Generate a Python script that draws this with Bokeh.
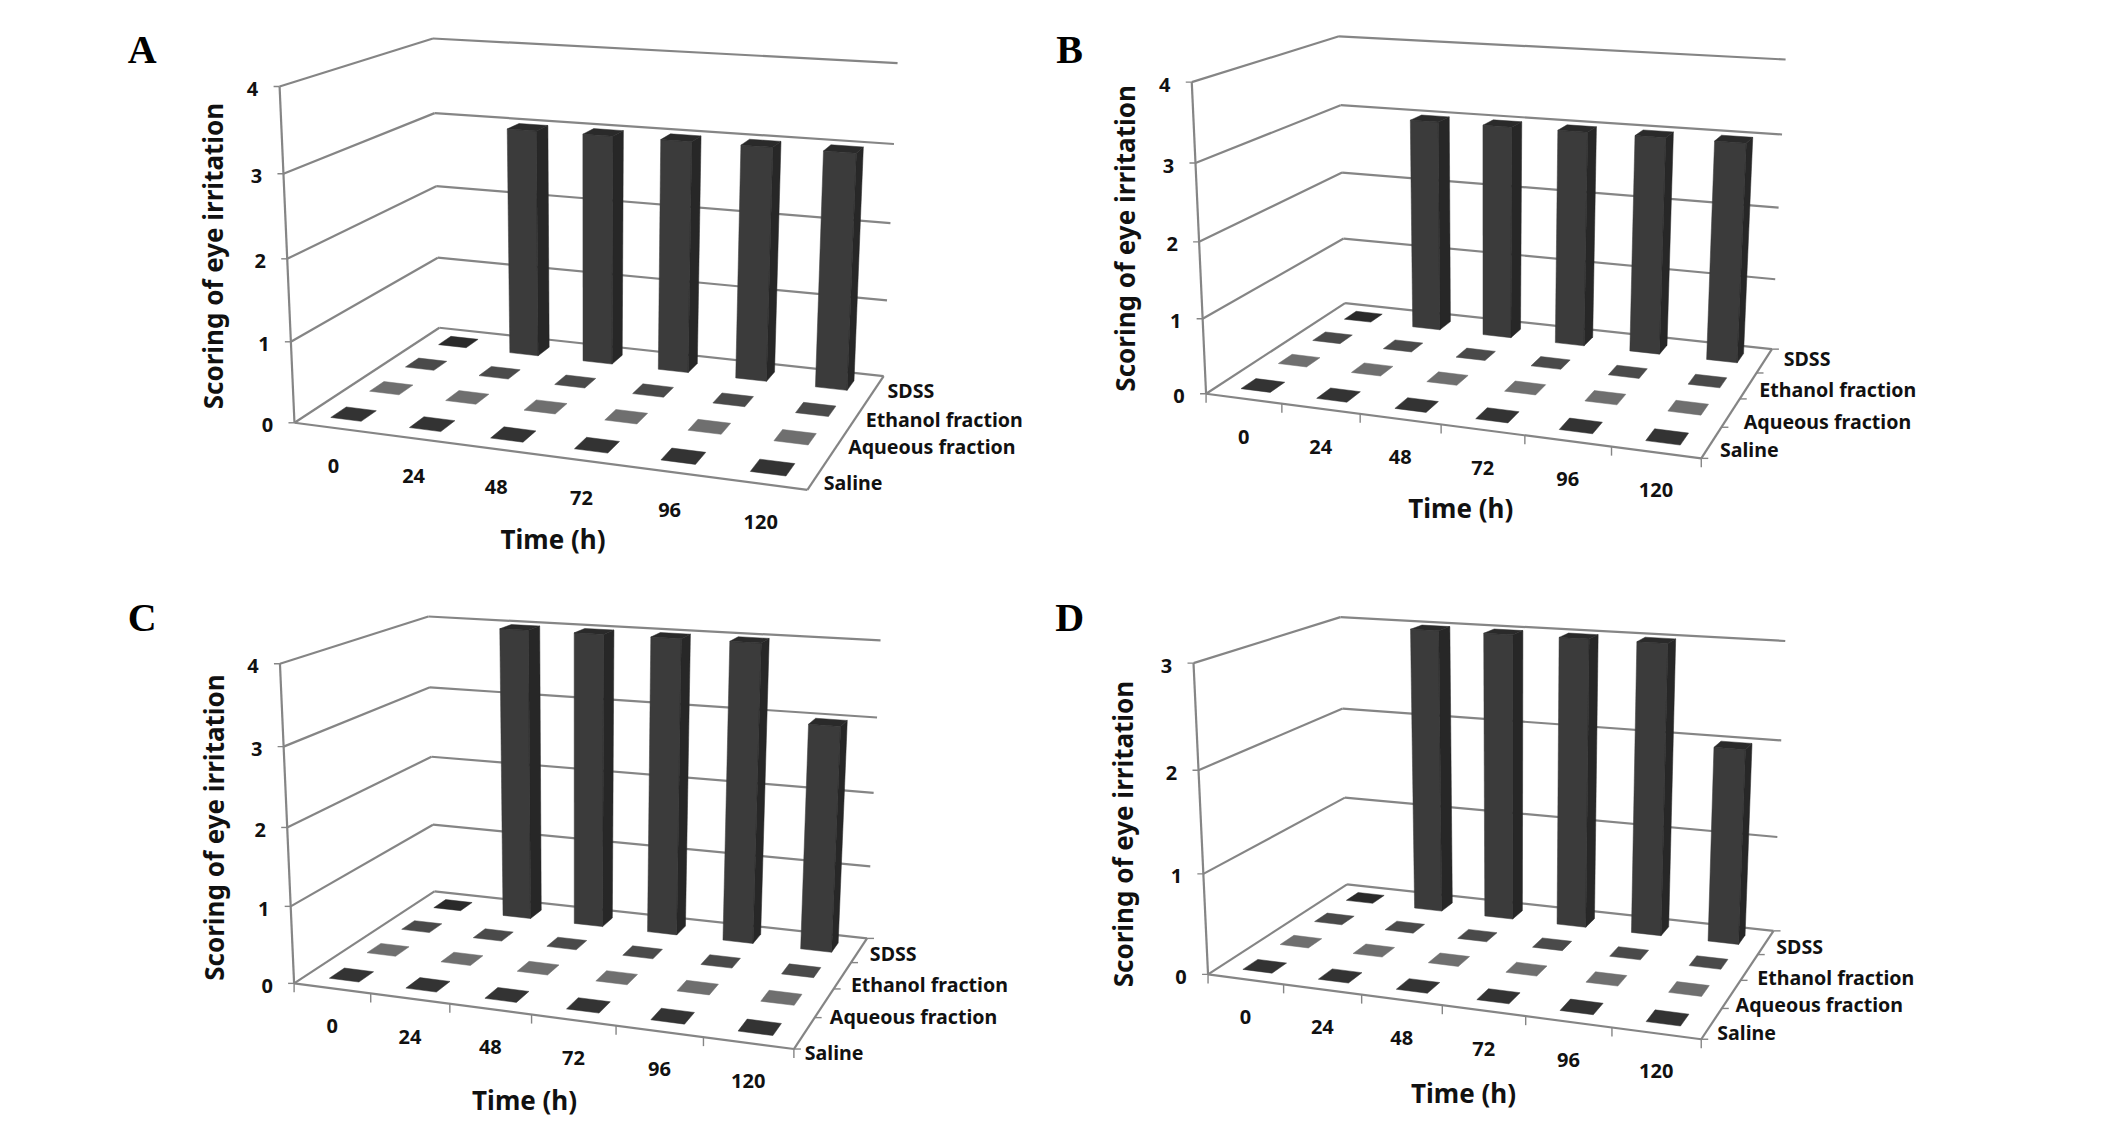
import numpy as np
from bokeh.plotting import figure
from bokeh.layouts import gridplot
from bokeh.models import ColumnDataSource, Range1d
from bokeh.core.properties import value
from bokeh.embed import file_html
from bokeh.resources import INLINE

# ---------- chart values ----------
times = ["0", "24", "48", "72", "96", "120"]
series = ["Saline", "Aqueous fraction", "Ethanol fraction", "SDSS"]
panel_names = ["A", "B", "C", "D"]

saline_all = [0, 0, 0, 0, 0, 0]
aqueous_all = [0, 0, 0, 0, 0, 0]
ethanol_all = [0, 0, 0, 0, 0, 0]
sdss_a = [0, 3, 3, 3, 3, 3]
sdss_b = [0, 3, 3, 3, 3, 3]
sdss_c = [0, 4, 4, 4, 4, 3]
sdss_d = [0, 3, 3, 3, 3, 2]
zmax_a, zmax_b, zmax_c, zmax_d = 4, 4, 4, 3

# ---------- styles ----------
FONT = "Noto Sans"
GRID = "#858585"
FRONT, SIDE, TOP = "#3b3b3b", "#272727", "#2a2a2a"
FLAT = ["#333333", "#6f6f6f", "#4a4a4a", "#2a2a2a"]
BAR_FRAC = 0.39

# ---------- layout of each panel (screen anchors of the 3-D box, in the 3x crop scale) ----------
SX, SY = 1.475, 2.775
layout = {
    "A": dict(o=(0, 0), frame=(0, 1037, 1, 568), floor_ticks=False,
              left=[(433,1175),(428,948),(423,720),(418,483),(412,242)],
              back=[(648,912),(645,717),(643,518),(640,315),(637,108)],
              right=[(1302,1043),(1308,835),(1313,621),(1318,402),(1323,176)],
              fr=(1190,1362),
              slabels=[(1218,1340),(1254,1240),(1280,1165),(1312,1085)],
              ytitle=(314,712), xtitle=(815,1498), letter=(209,140)),
    "B": dict(o=(1063, 0), frame=(1037, 2110, 1, 568), floor_ticks=True,
              left=[(211,1095),(205,887),(200,670),(195,452),(189,230)],
              back=[(415,843),(413,663),(411,481),(409,294),(406,102)],
              right=[(1045,968),(1050,776),(1055,578),(1060,375),(1065,167)],
              fr=(940,1275),
              slabels=[(972,1250),(1007,1170),(1030,1082),(1066,996)],
              ytitle=(90,663), xtitle=(586,1412), letter=(9,140)),
    "C": dict(o=(0, 565), frame=(0, 1037, 568, 1123), floor_ticks=True,
              left=[(433,1163),(428,948),(423,730),(418,505),(412,275)],
              back=[(640,907),(638,722),(636,534),(633,340),(631,145)],
              right=[(1278,1037),(1283,838),(1288,633),(1293,425),(1298,211)],
              fr=(1170,1345),
              slabels=[(1190,1354),(1227,1255),(1258,1165),(1286,1080)],
              ytitle=(315,730), xtitle=(773,1485), letter=(209,148)),
    "D": dict(o=(1063, 565), frame=(1037, 2110, 568, 1123), floor_ticks=True,
              left=[(214,1138),(205,860),(200,570),(192,272)],
              back=[(418,887),(415,647),(412,400),(408,147)],
              right=[(1048,1015),(1053,757),(1058,489),(1065,212)],
              fr=(940,1318),
              slabels=[(968,1298),(995,1222),(1027,1145),(1055,1060)],
              ytitle=(88,748), xtitle=(590,1467), letter=(9,148)),
}
panel_values = {
    "A": ([saline_all, aqueous_all, ethanol_all, sdss_a], zmax_a),
    "B": ([saline_all, aqueous_all, ethanol_all, sdss_b], zmax_b),
    "C": ([saline_all, aqueous_all, ethanol_all, sdss_c], zmax_c),
    "D": ([saline_all, aqueous_all, ethanol_all, sdss_d], zmax_d),
}


def fit_camera(cfg, zmax):
    """Least-squares pinhole camera: (t, s, z) in chart units -> page pixels."""
    ox, oy = cfg["o"]
    conv = lambda q: (ox + q[0] / SX, oy + q[1] / SY)
    world, img = [], []
    for z, q in enumerate(cfg["left"]):
        world.append((0, 0, z)); img.append(conv(q))
    for z, q in enumerate(cfg["back"]):
        world.append((0, 4, z)); img.append(conv(q))
    for z, q in enumerate(cfg["right"]):
        world.append((6, 4, z)); img.append(conv(q))
    world.append((6, 0, 0)); img.append(conv(cfg["fr"]))
    A = []
    for (X, Y, Z), (u, v) in zip(world, img):
        u, v = u / 1000, v / 1000
        A.append([X, Y, Z, 1, 0, 0, 0, 0, -u * X, -u * Y, -u * Z, -u])
        A.append([0, 0, 0, 0, X, Y, Z, 1, -v * X, -v * Y, -v * Z, -v])
    P = np.linalg.svd(np.array(A, float))[2][-1].reshape(3, 4)

    def proj(t, s, z):
        h = P @ np.array([t, s, z, 1.0])
        return float(h[0] / h[2] * 1000), float(h[1] / h[2] * 1000)
    return proj, conv


def make_panel(name):
    cfg = layout[name]
    rows, zmax = panel_values[name]
    proj, conv = fit_camera(cfg, zmax)
    x0, x1, y0, y1 = cfg["frame"]
    p = figure(width=x1 - x0, height=y1 - y0, output_backend="svg", toolbar_location=None,
               x_range=Range1d(x0, x1), y_range=Range1d(y1, y0),
               x_axis_location=None, y_axis_location=None, min_border=0,
               outline_line_color=None, background_fill_color="white",
               border_fill_color="white", tools="")
    p.grid.visible = False

    # walls and floor edges
    xs, ys = [], []
    def seg(a, b):
        xs.append([a[0], b[0]]); ys.append([a[1], b[1]])
    for z in range(zmax + 1):
        seg(proj(0, 0, z), proj(0, 4, z))
        seg(proj(0, 4, z), proj(6, 4, z))
    seg(proj(0, 0, 0), proj(0, 0, zmax))
    seg(proj(0, 0, 0), proj(6, 0, 0))
    seg(proj(6, 0, 0), proj(6, 4, 0))
    p.multi_line(xs, ys, line_color=GRID, line_width=2.2)

    # tick marks
    xs, ys = [], []
    for z in range(zmax + 1):
        a = proj(0, 0, z)
        seg(a, (a[0] - 6, a[1]))
    if cfg["floor_ticks"]:
        for t in range(7):
            a = proj(t, 0, 0)
            seg(a, (a[0], a[1] + 9))
        for s in range(5):
            a = proj(6, s, 0)
            seg(a, (a[0] + 7, a[1]))
    p.multi_line(xs, ys, line_color=GRID, line_width=1.4)

    # bars, back row first
    fx, fy, fc = [], [], []
    def face(pts, col):
        fx.append([q[0] for q in pts]); fy.append([q[1] for q in pts]); fc.append(col)
    pad = (1 - BAR_FRAC) / 2
    for si in reversed(range(len(series))):
        for ti, v in enumerate(rows[si]):
            t0, t1 = ti + pad, ti + 1 - pad
            s0, s1 = si + pad, si + 1 - pad
            if v > 0:
                face([proj(t0, s0, 0), proj(t1, s0, 0), proj(t1, s0, v), proj(t0, s0, v)], FRONT)
                face([proj(t1, s0, 0), proj(t1, s1, 0), proj(t1, s1, v), proj(t1, s0, v)], SIDE)
                face([proj(t0, s0, v), proj(t1, s0, v), proj(t1, s1, v), proj(t0, s1, v)], TOP)
            else:
                face([proj(t0, s0, 0), proj(t1, s0, 0), proj(t1, s1, 0), proj(t0, s1, 0)], FLAT[si])
    p.patches("x", "y", fill_color="c", line_color="c", line_width=0.5,
              source=ColumnDataSource(dict(x=fx, y=fy, c=fc)))

    # tick labels
    zx, zy, zt = [], [], []
    for z in range(zmax + 1):
        a = proj(0, 0, z)
        zx.append(a[0] - 27); zy.append(a[1] + 2.5); zt.append(str(z))
    p.text(zx, zy, text=zt, text_font=value(FONT), text_font_style="bold", text_font_size="20px",
           text_align="center", text_baseline="middle", text_color="#111111")
    tx, ty = [], []
    for t in range(len(times)):
        a = proj(t + 0.5, 0, 0)
        tx.append(a[0]); ty.append(a[1] + 38)
    p.text(tx, ty, text=times, text_font=value(FONT), text_font_style="bold", text_font_size="20px",
           text_align="center", text_baseline="middle", text_color="#111111")
    sl = [conv(q) for q in cfg["slabels"]]
    p.text([q[0] - 2.5 for q in sl], [q[1] for q in sl], text=series, text_font=value(FONT),
           text_font_style="bold", text_font_size="19.6px", text_align="left",
           text_baseline="middle", text_color="#111111")

    # axis titles and panel letter
    q = conv(cfg["ytitle"])
    p.text([q[0]], [q[1]], text=["Scoring of eye irritation"], angle=np.pi / 2,
           text_font=value(FONT), text_font_style="bold", text_font_size="26px",
           text_align="center", text_baseline="middle", text_color="#111111")
    q = conv(cfg["xtitle"])
    p.text([q[0]], [q[1]], text=["Time (h)"], text_font=value(FONT), text_font_style="bold",
           text_font_size="26px", text_align="center", text_baseline="middle", text_color="#111111")
    q = conv(cfg["letter"])
    p.text([q[0]], [q[1]], text=[name], text_font=value("Liberation Serif"), text_font_style="bold",
           text_font_size="40px", text_align="center", text_baseline="middle", text_color="#000000")
    return p


panels = [make_panel(n) for n in panel_names]
grid = gridplot([[panels[0], panels[1]], [panels[2], panels[3]]], toolbar_location=None)
open("out.html", "w").write(file_html(grid, INLINE))
